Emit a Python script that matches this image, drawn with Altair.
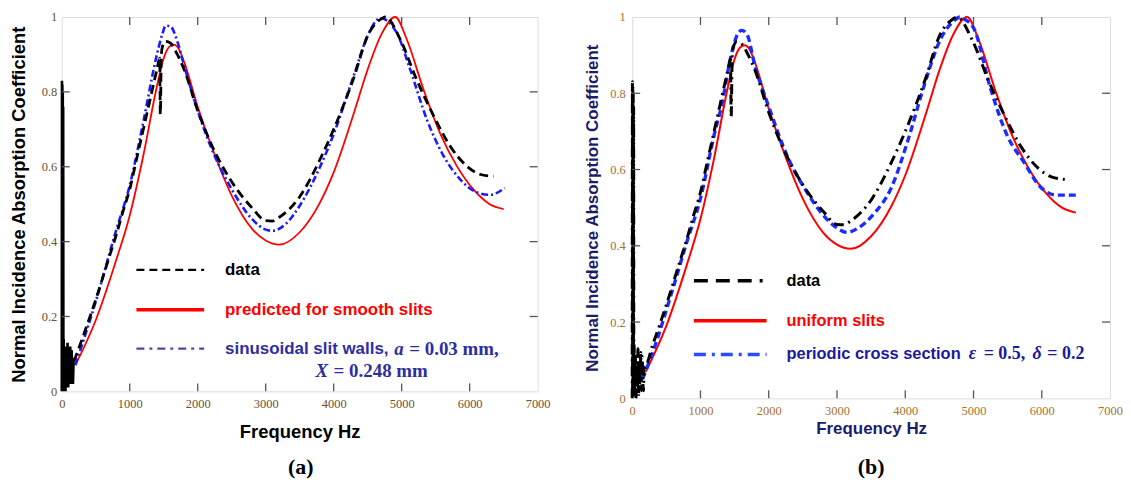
import altair as alt
import pandas as pd

# ---------------- data ----------------
# low-frequency noisy part of the measured data
freq_low = [0, 3, 6, 9, 12, 15, 18, 21, 24, 28, 35, 45, 55, 65, 75, 85, 95, 105,
            115, 125, 135, 145, 155, 165, 175]
alpha_low = [0.0, 0.83, 0.01, 0.82, 0.03, 0.80, 0.0, 0.76, 0.05, 0.14, 0.02, 0.12,
             0.0, 0.09, 0.03, 0.13, 0.01, 0.10, 0.04, 0.12, 0.02, 0.11, 0.05, 0.02, 0.09]

# measured data
freq_data = [180, 300, 500, 700, 800, 900, 1000, 1100, 1200, 1300, 1400, 1440, 1450,
             1465, 1480, 1530, 1600, 1700, 1800, 2000, 2200, 2500, 2800, 3000, 3100,
             3200, 3500, 3800, 4000, 4300, 4500, 4700, 4760, 4980, 5220, 5470, 5710,
             5950, 6150, 6350]
alpha_data = [0.08, 0.14, 0.245, 0.36, 0.417, 0.48, 0.54, 0.62, 0.70, 0.78, 0.86, 0.89,
              0.74, 0.90, 0.92, 0.935, 0.93, 0.90, 0.86, 0.75, 0.66, 0.56, 0.49, 0.456,
              0.455, 0.465, 0.52, 0.62, 0.70, 0.84, 0.95, 0.995, 1.0, 0.94, 0.833, 0.736,
              0.656, 0.603, 0.58, 0.574]

# prediction for smooth / uniform slits
freq_smooth = [200, 500, 800, 1000, 1200, 1400, 1500, 1580, 1650, 1720, 1800, 2000, 2200,
               2500, 2800, 3000, 3200, 3500, 3800, 4000, 4300, 4500, 4700, 4905, 5076,
               5320, 5564, 5808, 6052, 6296, 6500]
alpha_smooth = [0.07, 0.19, 0.35, 0.47, 0.63, 0.815, 0.89, 0.92, 0.926, 0.915, 0.88, 0.76,
                0.656, 0.523, 0.434, 0.403, 0.392, 0.425, 0.505, 0.585, 0.745, 0.86,
                0.953, 1.0, 0.94, 0.807, 0.69, 0.603, 0.54, 0.50, 0.487]

# sinusoidal slit walls (panel a)
freq_sin = [200, 500, 800, 1000, 1200, 1400, 1480, 1530, 1600, 1700, 1800, 2000, 2200,
            2500, 2800, 3000, 3100, 3300, 3500, 3800, 4000, 4300, 4500, 4686, 4930,
            5125, 5369, 5613, 5857, 6101, 6296, 6516]
alpha_sin = [0.07, 0.24, 0.43, 0.55, 0.72, 0.90, 0.955, 0.977, 0.975, 0.935, 0.87, 0.75,
             0.65, 0.54, 0.46, 0.432, 0.429, 0.448, 0.496, 0.60, 0.687, 0.846, 0.95,
             0.997, 0.957, 0.86, 0.727, 0.63, 0.567, 0.532, 0.525, 0.543]

# periodic cross section (panel b)
freq_per = [150, 300, 583, 800, 1000, 1200, 1312, 1450, 1530, 1603, 1680, 1800, 2000,
            2284, 2527, 2800, 3013, 3150, 3304, 3547, 3790, 4033, 4276, 4519, 4713,
            4800, 4859, 5005, 5248, 5491, 5734, 5977, 6220, 6511]
alpha_per = [0.05, 0.12, 0.28, 0.41, 0.524, 0.69, 0.77, 0.90, 0.95, 0.965, 0.955, 0.87,
             0.765, 0.63, 0.55, 0.48, 0.445, 0.435, 0.446, 0.485, 0.55, 0.673, 0.82,
             0.943, 0.99, 1.0, 0.995, 0.97, 0.813, 0.69, 0.62, 0.555, 0.533, 0.533]

x_ticks = [0, 1000, 2000, 3000, 4000, 5000, 6000, 7000]
y_ticks = [0, 0.2, 0.4, 0.6, 0.8, 1]
x_inner = [1000, 2000, 3000, 4000, 5000, 6000]
y_inner = [0.2, 0.4, 0.6, 0.8]

x_title = "Frequency Hz"
y_title = "Normal Incidence Absorption Coefficient"

# ---------------- helpers ----------------
XS = alt.Scale(domain=[0, 7000], nice=False, zero=False)
YS = alt.Scale(domain=[0, 1], nice=False, zero=False)


def line(freq, alpha, color, width, xaxis, yaxis, dash=None, interp="monotone"):
    df = pd.DataFrame({"f": freq, "a": alpha})
    kw = dict(color=color, strokeWidth=width, interpolate=interp)
    if dash:
        kw["strokeDash"] = dash
    return alt.Chart(df).mark_line(**kw).encode(
        x=alt.X("f:Q", scale=XS, axis=xaxis),
        y=alt.Y("a:Q", scale=YS, axis=yaxis),
    )


def ticks(W, H, xaxis, yaxis):
    dx = pd.DataFrame({"f": x_inner})
    dy = pd.DataFrame({"a": y_inner})
    c = "#555555"
    bottom = alt.Chart(dx).mark_rule(color=c, strokeWidth=1.3).encode(
        x=alt.X("f:Q", scale=XS, axis=xaxis), y=alt.value(H), y2=alt.value(H - 8))
    top = alt.Chart(dx).mark_rule(color=c, strokeWidth=1.3).encode(
        x=alt.X("f:Q", scale=XS, axis=xaxis), y=alt.value(0), y2=alt.value(8))
    left = alt.Chart(dy).mark_rule(color=c, strokeWidth=1.3).encode(
        y=alt.Y("a:Q", scale=YS, axis=yaxis), x=alt.value(0), x2=alt.value(8))
    right = alt.Chart(dy).mark_rule(color=c, strokeWidth=1.3).encode(
        y=alt.Y("a:Q", scale=YS, axis=yaxis), x=alt.value(W), x2=alt.value(W - 8))
    return [bottom, top, left, right]


def txt(s, x, y, color, size, font="Liberation Sans", weight="bold", style="normal",
        align="left"):
    return alt.Chart(pd.DataFrame({"t": [s]})).mark_text(
        align=align, baseline="middle", font=font, fontSize=size, fontWeight=weight,
        fontStyle=style, color=color).encode(
        x=alt.value(x), y=alt.value(y), text="t:N")


def seg(x1, x2, y, color, width, dash=None):
    kw = dict(color=color, strokeWidth=width)
    if dash:
        kw["strokeDash"] = dash
    return alt.Chart(pd.DataFrame({"k": [0]})).mark_rule(**kw).encode(
        x=alt.value(x1), x2=alt.value(x2), y=alt.value(y))


def axes(label_color, title_color, title_size, xtp, ytp, ylp):
    xa = alt.Axis(values=x_ticks, format="d", title=x_title, labelFont="Liberation Serif",
                  labelFontSize=12.5, labelColor=label_color, labelPadding=6,
                  labelFlush=False, labelOverlap=False,
                  titleFont="Liberation Sans", titleFontSize=title_size,
                  titleFontWeight="bold", titleColor=title_color, titlePadding=xtp,
                  domain=False, ticks=False, grid=False)
    ya = alt.Axis(values=y_ticks, format="~g", title=y_title, labelFont="Liberation Serif",
                  labelFontSize=12.5, labelColor=label_color, labelPadding=ylp,
                  labelFlush=False, labelOverlap=False,
                  titleFont="Liberation Sans", titleFontSize=title_size,
                  titleFontWeight="bold", titleColor=title_color, titlePadding=ytp,
                  domain=False, ticks=False, grid=False)
    return xa, ya


# ---------------- panel (a) ----------------
WA, HA = 478, 376
xa, ya = axes("#6e5030", "#000000", 18.5, 13, 13, 5)
purple_text = "#2e2ea0"
panel_a = alt.layer(
    line(freq_smooth, alpha_smooth, "#ff0000", 1.8, xa, ya),
    line(freq_sin, alpha_sin, "#1a1aff", 2.6, xa, ya, dash=[7, 3, 2, 3]),
    line(freq_low, alpha_low, "#000000", 2.6, xa, ya, interp="linear"),
    line(freq_data, alpha_data, "#000000", 2.8, xa, ya, dash=[9, 5]),
    *ticks(WA, HA, xa, ya),
    seg(75, 143, 254, "#000000", 2.4, dash=[8, 5]),
    seg(75, 143, 294, "#ff0000", 3.5),
    seg(75, 143, 333, "#5a3fb0", 2.2, dash=[8, 5, 3, 5]),
    txt("data", 164, 254, "#000000", 17),
    txt("predicted for smooth slits", 164, 294, "#ff0000", 17),
    txt("sinusoidal slit walls,", 164, 333, purple_text, 17),
    txt("a", 334, 333, purple_text, 19, font="Liberation Serif", style="italic"),
    txt("= 0.03 mm,", 349, 333, purple_text, 19, font="Liberation Serif"),
    txt("X", 255, 356, purple_text, 19, font="Liberation Serif", style="italic"),
    txt("= 0.248 mm", 273, 356, purple_text, 19, font="Liberation Serif"),
    txt("(a)", 240, 452, "#000000", 22, font="Liberation Serif", align="center"),
).properties(width=WA, height=HA)

# ---------------- panel (b) ----------------
WB, HB = 480, 383
navy = "#1c1c6b"
xb, yb = axes("#a8702e", navy, 17, 4, 8, 7)
blue_text = "#1a1a9c"
panel_b = alt.layer(
    line(freq_smooth, alpha_smooth, "#ff0000", 2.0, xb, yb),
    line(freq_per, alpha_per, "#1a2cff", 3.4, xb, yb, dash=[7, 4]),
    line(freq_low + freq_data, alpha_low + alpha_data, "#000000", 3.0, xb, yb,
         dash=[10, 5, 2, 5]),
    *ticks(WB, HB, xb, yb),
    seg(62, 135, 265, "#000000", 3.5, dash=[14, 8, 14, 8, 14, 8, 3, 20]),
    seg(62, 135, 305, "#ff0000", 3.5),
    seg(62, 135, 339, "#2a4bff", 3.5, dash=[12, 6, 3, 6]),
    txt("data", 155, 265, "#000000", 16.5),
    txt("uniform slits", 155, 305, "#ff0000", 16.5),
    txt("periodic cross section", 155, 339, blue_text, 16.5),
    txt("ε", 338, 339, blue_text, 18, font="Liberation Serif", style="italic"),
    txt("= 0.5,", 353, 339, blue_text, 18, font="Liberation Serif"),
    txt("δ", 402, 339, blue_text, 18, font="Liberation Serif", style="italic"),
    txt("= 0.2", 417, 339, blue_text, 18, font="Liberation Serif"),
    txt("(b)", 240, 452, "#000000", 22, font="Liberation Serif", align="center"),
).properties(width=WB, height=HB)

chart = alt.hconcat(panel_a, panel_b, spacing=32).properties(
    padding={"left": 0, "top": 0, "right": 0, "bottom": 0}
).configure_view(stroke="#555555", strokeWidth=1.5).configure(background="white")

chart.save("out.html", embed_options={"renderer": "svg", "actions": False})
